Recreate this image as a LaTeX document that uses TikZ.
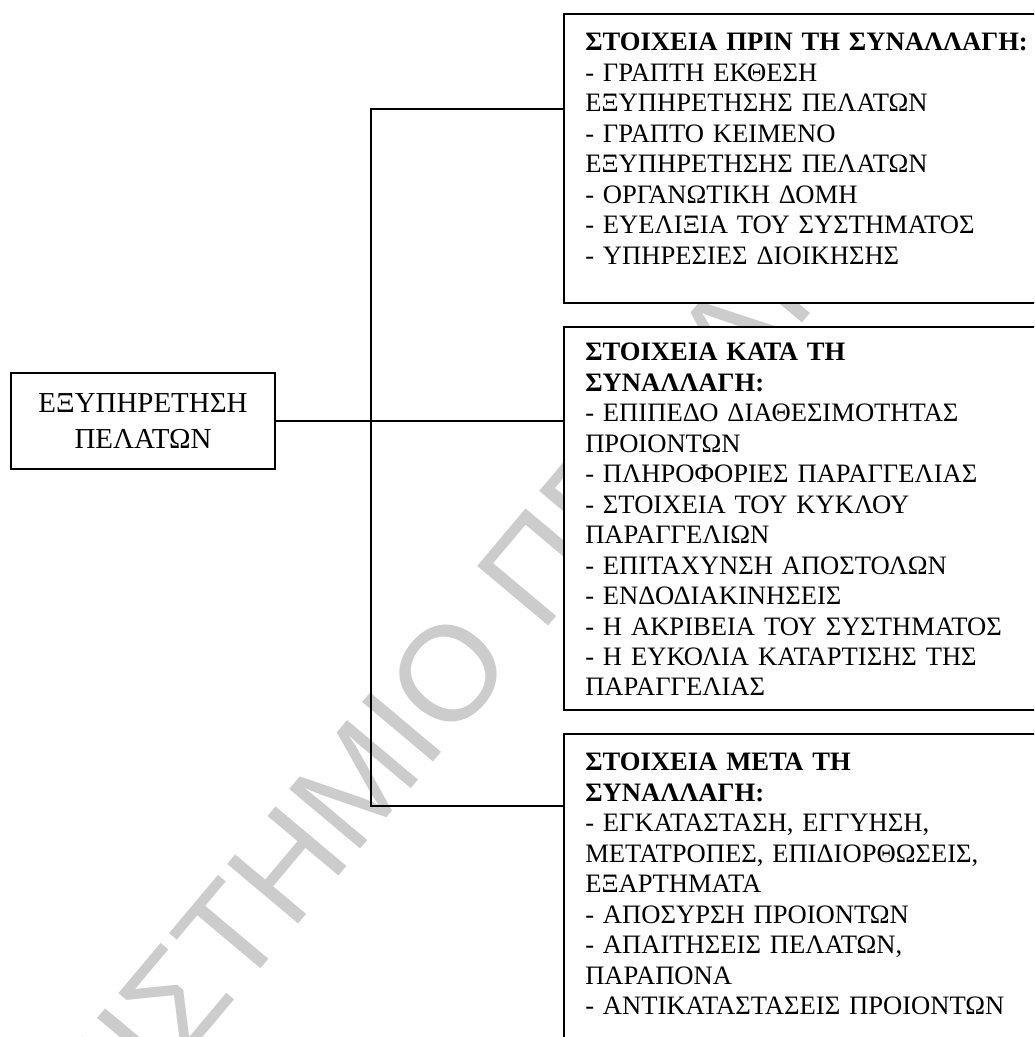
\documentclass[tikz,border=0pt]{standalone}
\usepackage{fontspec}
\setmainfont{Liberation Serif}
\newfontfamily\wmfont{Liberation Sans}
\begin{document}
\begin{tikzpicture}[x=0.75pt,y=-0.75pt,
  frame/.style={draw=black, line width=1.3pt, fill=white, inner sep=0pt, anchor=north west},
  txt/.style={inner sep=0pt, anchor=base west, align=left, text width=340pt,
              font=\fontsize{19.95}{22.85}\selectfont},
  maintxt/.style={font=\fontsize{21.7}{27}\selectfont, align=center},
  conn/.style={draw=black, line width=1.3pt},
  wm/.style={text=gray!40, font=\wmfont\fontsize{101}{101}\selectfont, inner sep=0pt}]
\useasboundingbox (0,0) rectangle (1034,1037);
\clip (0,0) rectangle (1034,1037);
% watermark
\node[wm, rotate=50] (wm) at (362,776) {ΠΑΝΕΠΙΣΤΗΜΙΟ ΠΕΙΡΑΙΩΣ};
% boxes
\node[frame, minimum width=360pt, minimum height=216.75pt] (b1) at (563,13) {};
\node[frame, minimum width=360pt, minimum height=287.25pt] (b2) at (563,326) {};
\node[frame, minimum width=360pt, minimum height=300pt] (b3) at (563,733) {};
\node[frame, maintxt, anchor=center, minimum width=198pt, minimum height=72pt] (main) at (143,421)
  {ΕΞΥΠΗΡΕΤΗΣΗ\\ΠΕΛΑΤΩΝ};
% texts
\node[txt] (t1) at (585,50.8) {\textbf{ΣΤΟΙΧΕΙΑ ΠΡΙΝ ΤΗ ΣΥΝΑΛΛΑΓΗ:}\\
- ΓΡΑΠΤΗ ΕΚΘΕΣΗ\\
ΕΞΥΠΗΡΕΤΗΣΗΣ ΠΕΛΑΤΩΝ\\
- ΓΡΑΠΤΟ ΚΕΙΜΕΝΟ\\
ΕΞΥΠΗΡΕΤΗΣΗΣ ΠΕΛΑΤΩΝ\\
- ΟΡΓΑΝΩΤΙΚΗ ΔΟΜΗ\\
- ΕΥΕΛΙΞΙΑ ΤΟΥ ΣΥΣΤΗΜΑΤΟΣ\\
- ΥΠΗΡΕΣΙΕΣ ΔΙΟΙΚΗΣΗΣ};
\node[txt] (t2) at (585,360.8) {\textbf{ΣΤΟΙΧΕΙΑ ΚΑΤΑ ΤΗ}\\
\textbf{ΣΥΝΑΛΛΑΓΗ:}\\
- ΕΠΙΠΕΔΟ ΔΙΑΘΕΣΙΜΟΤΗΤΑΣ\\
ΠΡΟΙΟΝΤΩΝ\\
- ΠΛΗΡΟΦΟΡΙΕΣ ΠΑΡΑΓΓΕΛΙΑΣ\\
- ΣΤΟΙΧΕΙΑ ΤΟΥ ΚΥΚΛΟΥ\\
ΠΑΡΑΓΓΕΛΙΩΝ\\
- ΕΠΙΤΑΧΥΝΣΗ ΑΠΟΣΤΟΛΩΝ\\
- ΕΝΔΟΔΙΑΚΙΝΗΣΕΙΣ\\
- Η ΑΚΡΙΒΕΙΑ ΤΟΥ ΣΥΣΤΗΜΑΤΟΣ\\
- Η ΕΥΚΟΛΙΑ ΚΑΤΑΡΤΙΣΗΣ ΤΗΣ\\
ΠΑΡΑΓΓΕΛΙΑΣ};
\node[txt] (t3) at (585,770.8) {\textbf{ΣΤΟΙΧΕΙΑ ΜΕΤΑ ΤΗ}\\
\textbf{ΣΥΝΑΛΛΑΓΗ:}\\
- ΕΓΚΑΤΑΣΤΑΣΗ, ΕΓΓΥΗΣΗ,\\
ΜΕΤΑΤΡΟΠΕΣ, ΕΠΙΔΙΟΡΘΩΣΕΙΣ,\\
ΕΞΑΡΤΗΜΑΤΑ\\
- ΑΠΟΣΥΡΣΗ ΠΡΟΙΟΝΤΩΝ\\
- ΑΠΑΙΤΗΣΕΙΣ ΠΕΛΑΤΩΝ,\\
ΠΑΡΑΠΟΝΑ\\
- ΑΝΤΙΚΑΤΑΣΤΑΣΕΙΣ ΠΡΟΙΟΝΤΩΝ};
% connectors
\coordinate (jt) at (371,109);
\coordinate (jb) at (371,806);
\draw[conn] (b1.west |- jt) -- (jt) -- (jb) -- (b3.west |- jb);
\draw[conn] (main.east) -- (main.east -| b2.west);
\end{tikzpicture}
\end{document}
